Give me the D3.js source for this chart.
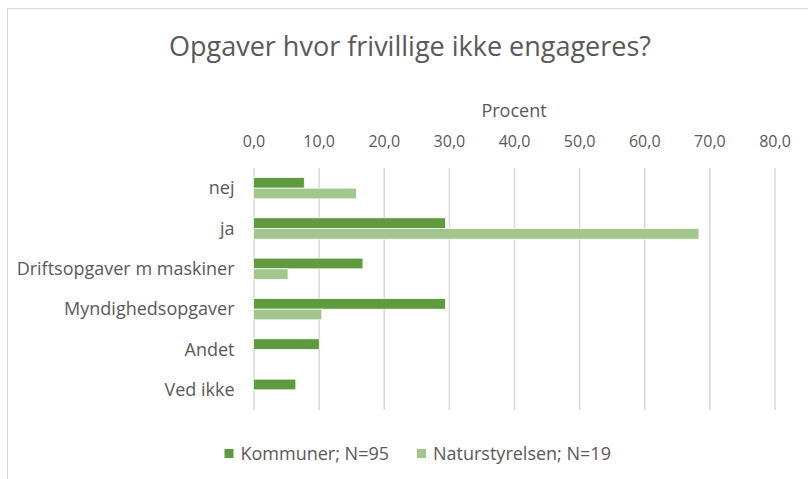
<!DOCTYPE html>
<html>
<head>
<meta charset="utf-8">
<script src="https://cdn.jsdelivr.net/npm/d3@7"></script>
<style>
  body { margin: 0; background: #fff; }
  text { font-family: "Open Sans", "Liberation Sans", Arial, sans-serif; fill: #595959; }
</style>
</head>
<body>
<script>
// data
const categories = ["nej", "ja", "Driftsopgaver m maskiner", "Myndighedsopgaver", "Andet", "Ved ikke"];
const kommuner = [7.8, 29.5, 16.8, 29.5, 10.1, 6.5];
const naturstyrelsen = [15.8, 68.4, 5.3, 10.5, null, null];
const seriesNames = ["Kommuner; N=95", "Naturstyrelsen; N=19"];
const seriesColors = ["#5f9a3f", "#a3c68e"];
const xTicks = [0, 10, 20, 30, 40, 50, 60, 70, 80];

const width = 808;
const height = 479;

const plot = { left: 253.5, right: 774.5, top: 168, bottom: 410 };

let svg = d3.select('body')
            .append('svg')
            .attr('width', width)
            .attr('height', height);

// chart frame
svg.append('rect')
   .attr('x', 7.5)
   .attr('y', 8.5)
   .attr('width', 820)
   .attr('height', 500)
   .attr('fill', 'none')
   .attr('stroke', '#d9d9d9');

svg.append('text')
   .attr('x', 410)
   .attr('y', 56)
   .attr('text-anchor', 'middle')
   .style('font-size', '27px')
   .text('Opgaver hvor frivillige ikke engageres?');

svg.append('text')
   .attr('x', (plot.left + plot.right) / 2)
   .attr('y', 117)
   .attr('text-anchor', 'middle')
   .style('font-size', '18px')
   .text('Procent');

let x = d3.scaleLinear()
          .domain([0, 80])
          .range([plot.left, plot.right]);

let y = d3.scaleBand()
          .domain(categories)
          .range([plot.top, plot.bottom]);

let xAxis = svg.append('g')
   .attr('transform', `translate(0,${plot.top})`)
   .call(d3.axisTop(x)
           .tickValues(xTicks)
           .tickSize(-(plot.bottom - plot.top))
           .tickPadding(21)
           .tickFormat(d => d.toFixed(1).replace('.', ',')));
xAxis.select('.domain').remove();
xAxis.selectAll('.tick line').attr('stroke', '#d9d9d9').attr('stroke-width', 1.5);
xAxis.selectAll('.tick text').style('font-size', '16px').attr('fill', '#595959');

let yAxis = svg.append('g')
   .attr('transform', `translate(${plot.left},0)`)
   .call(d3.axisLeft(y).tickSize(0).tickPadding(19));
yAxis.select('.domain').remove();
yAxis.selectAll('.tick text').style('font-size', '18px').attr('fill', '#595959')
     .attr('dy', '0.35em');

// bars: two per category, group occupies ~53% of the band
const groupFrac = 0.53;
const barH = y.bandwidth() * groupFrac / 2;

[kommuner, naturstyrelsen].forEach((values, i) => {
    svg.append('g')
       .selectAll('rect')
       .data(categories.map((c, j) => ({ c: c, v: values[j] })).filter(d => d.v != null))
       .enter()
       .append('rect')
       .attr('x', x(0))
       .attr('y', d => y(d.c) + y.bandwidth() * (1 - groupFrac) / 2 + i * barH)
       .attr('width', d => x(d.v) - x(0))
       .attr('height', barH)
       .attr('fill', seriesColors[i])
       .attr('stroke', '#fff')
       .attr('stroke-width', 0.75);
});

// legend
const legendX = [224.5, 417];
seriesNames.forEach((name, i) => {
    let g = svg.append('g').attr('transform', `translate(${legendX[i]},449)`);
    g.append('rect')
     .attr('width', 9)
     .attr('height', 9)
     .attr('fill', seriesColors[i]);
    g.append('text')
     .attr('x', 16)
     .attr('y', 10.5)
     .style('font-size', '18px')
     .text(name);
});
</script>
</body>
</html>
